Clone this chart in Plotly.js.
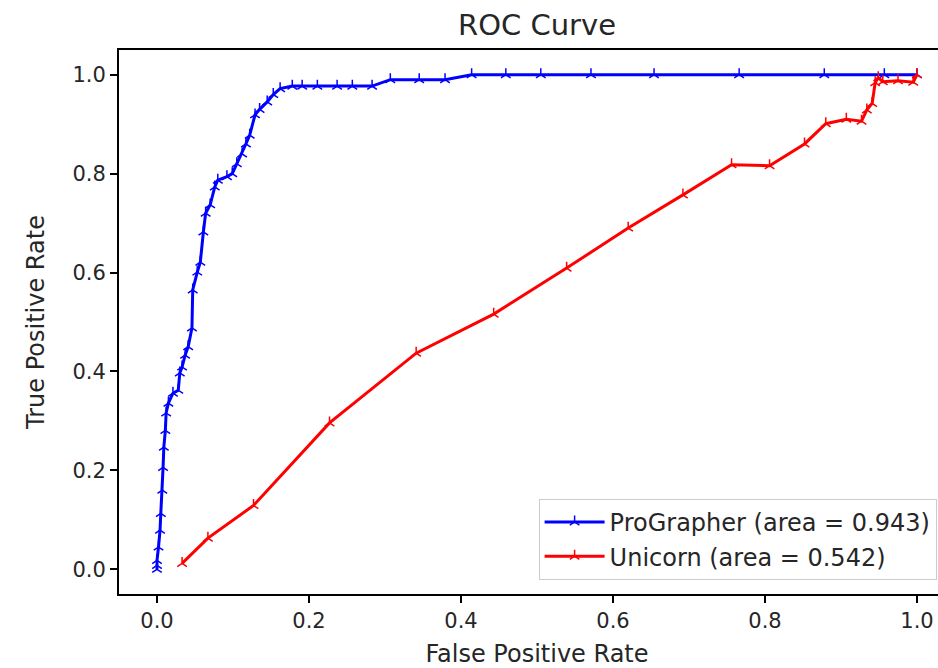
<!DOCTYPE html>
<html>
<head>
<meta charset="utf-8">
<script src="https://cdn.plot.ly/plotly-3.0.1.min.js"></script>
<style>
html, body { margin: 0; padding: 0; overflow: hidden; background: #fff; }
#chart { width: 960px; height: 668px; }
</style>
</head>
<body>
<div id="chart"></div>
<script>
// ProGrapher ROC points (false positive rate, true positive rate)
const proFpr = [0.0, 0.0, 0.0, 0.002, 0.004, 0.005, 0.007, 0.008, 0.009, 0.011, 0.012, 0.015, 0.021, 0.028,
  0.030, 0.033, 0.037, 0.041, 0.046, 0.047, 0.053, 0.057, 0.061, 0.064, 0.070, 0.076, 0.080, 0.092, 0.099,
  0.105, 0.112, 0.117, 0.122, 0.129, 0.135, 0.145, 0.153, 0.162, 0.178, 0.191, 0.211, 0.237, 0.257, 0.283,
  0.307, 0.345, 0.379, 0.414, 0.459, 0.505, 0.571, 0.654, 0.766, 0.878, 0.957, 1.0];
const proTpr = [0.0, 0.008, 0.018, 0.045, 0.079, 0.113, 0.160, 0.206, 0.247, 0.281, 0.316, 0.336, 0.356, 0.362,
  0.397, 0.409, 0.433, 0.450, 0.488, 0.565, 0.601, 0.621, 0.682, 0.720, 0.737, 0.773, 0.787, 0.794, 0.800,
  0.820, 0.840, 0.860, 0.878, 0.919, 0.930, 0.945, 0.960, 0.972, 0.977, 0.977, 0.977, 0.977, 0.977, 0.977,
  0.990, 0.990, 0.990, 1.0, 1.0, 1.0, 1.0, 1.0, 1.0, 1.0, 1.0, 1.0];

// Unicorn ROC points
const uniFpr = [0.033, 0.067, 0.127, 0.227, 0.341, 0.443, 0.539, 0.620, 0.692, 0.756, 0.806, 0.852, 0.880,
  0.907, 0.927, 0.934, 0.941, 0.945, 0.949, 0.955, 0.975, 0.995, 1.0];
const uniTpr = [0.012, 0.063, 0.129, 0.296, 0.437, 0.516, 0.609, 0.690, 0.757, 0.818, 0.816, 0.860, 0.901,
  0.910, 0.906, 0.929, 0.942, 0.984, 0.994, 0.986, 0.988, 0.985, 1.0];

const seriesNames = ['ProGrapher (area = 0.943)', 'Unicorn (area = 0.542)'];
const seriesColors = ['#0000ff', '#ff0000'];
const tickVals = [0.0, 0.2, 0.4, 0.6, 0.8, 1.0];
const tickText = ['0.0', '0.2', '0.4', '0.6', '0.8', '1.0'];

const font = 'DejaVu Sans, sans-serif';

function mk(x, y, i) {
  return {
    x: x, y: y, type: 'scatter', mode: 'lines+markers', name: seriesNames[i],
    legendgroup: 'g' + i,
    line: { color: seriesColors[i], width: 3 },
    marker: { symbol: 'y-up', size: 8, color: seriesColors[i], line: { color: seriesColors[i], width: 1.5 } }
  };
}

const data = [mk(proFpr, proTpr, 0), mk(uniFpr, uniTpr, 1)];

const axisCommon = {
  range: [-0.05, 1.05], tickvals: tickVals, ticktext: tickText,
  ticks: 'outside', ticklen: 7, tickwidth: 2, tickcolor: '#000',
  showline: true, linewidth: 2, linecolor: '#000', mirror: true,
  showgrid: false, zeroline: false,
  tickfont: { family: font, size: 21, color: '#262626' }
};

const layout = {
  width: 960, height: 668,
  margin: { l: 119, r: 5, t: 50, b: 74 },
  paper_bgcolor: '#fff', plot_bgcolor: '#fff',
  font: { family: font, color: '#262626' },
  title: { text: 'ROC Curve', font: { family: font, size: 29, color: '#262626' }, x: 0.5, xref: 'paper', xanchor: 'center', y: 1, yref: 'container', yanchor: 'top', pad: { t: 15 } },
  xaxis: Object.assign({}, axisCommon, { title: { text: 'False Positive Rate', font: { family: font, size: 24, color: '#262626' }, standoff: 17 } }),
  yaxis: Object.assign({}, axisCommon, { title: { text: 'True Positive Rate', font: { family: font, size: 24, color: '#262626' }, standoff: 21 } }),
  showlegend: true,
  legend: {
    x: 0.978, xanchor: 'right', y: 0.026, yanchor: 'bottom',
    bgcolor: 'rgba(255,255,255,0.8)', bordercolor: '#cccccc', borderwidth: 1,
    font: { family: font, size: 24, color: '#262626' },
    itemwidth: 60,
    tracegroupgap: 4, traceorder: 'normal'
  }
};

Plotly.newPlot('chart', data, layout, { displayModeBar: false, staticPlot: true });
</script>
</body>
</html>
